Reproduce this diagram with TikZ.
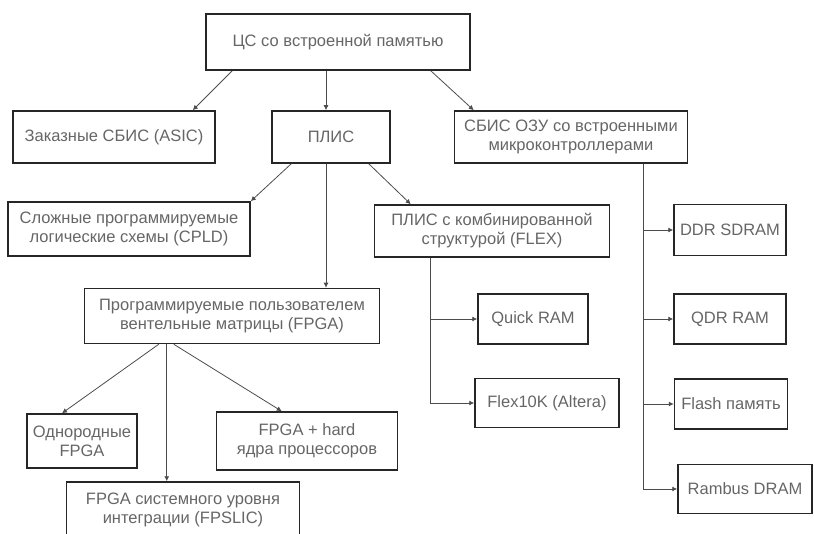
\documentclass[tikz,border=0pt]{standalone}
\usepackage{fontspec}
\setmainfont{Liberation Sans}
\usetikzlibrary{arrows.meta}
\tikzset{
  blk/.style={draw=black!85,line width=1.5pt,align=center,text=black!60,
    inner sep=2pt,font=\fontsize{16.5}{19}\selectfont},
  arr/.style={draw=black!70,line width=0.8pt,-{Latex[length=5pt,width=5pt]}}
}
\begin{document}
\begin{tikzpicture}[x=1pt,y=-1pt]
			\useasboundingbox (0,0) rectangle (814,534);
			% boxes
			\node[blk,minimum width=264,minimum height=56] (top) at (338,42) {ЦС со встроенной памятью};
			\node[blk,minimum width=202,minimum height=52] (asic) at (114,137) {Заказные СБИС (ASIC)};
			\node[blk,minimum width=118,minimum height=52] (plis) at (331,137) {ПЛИС};
			\node[blk,minimum width=233,minimum height=52] (sbis) at (571,137) {СБИС ОЗУ со встроенными\\микроконтроллерами};
			\node[blk,minimum width=242,minimum height=54] (cpld) at (129,229) {Сложные программируемые\\логические схемы (CPLD)};
			\node[blk,minimum width=235,minimum height=52] (flex) at (492,231) {ПЛИС с комбинированной\\структурой (FLEX)};
			\node[blk,minimum width=295,minimum height=55] (fpga) at (232,316) {Программируемые пользователем\\вентельные матрицы (FPGA)};
			\node[blk,minimum width=110,minimum height=50] (quick) at (533,319) {Quick RAM};
			\node[blk,minimum width=144,minimum height=49] (flexk) at (547,403) {Flex10K (Altera)};
			\node[blk,minimum width=112,minimum height=51] (ddr) at (730,230) {DDR SDRAM};
			\node[blk,minimum width=112,minimum height=50] (qdr) at (730,319) {QDR RAM};
			\node[blk,minimum width=113,minimum height=50] (flash) at (731,404) {Flash память};
			\node[blk,minimum width=134,minimum height=49] (rambus) at (745,489) {Rambus DRAM};
			\node[blk,minimum width=110,minimum height=54] (odn) at (82,441) {Однородные\\FPGA};
			\node[blk,minimum width=181,minimum height=58] (hard) at (307,441) {FPGA + hard\\ядра процессоров};
			\node[blk,minimum width=233,minimum height=56] (fpslic) at (183,510) {FPGA системного уровня\\интеграции (FPSLIC)};
			% links
			\draw[arr] ([xshift=27]top.south west) -- ([xshift=-23]asic.north east);
			\draw[arr] ([xshift=-12]top.south) -- ([xshift=-12]top.south |- plis.north);
			\draw[arr] ([xshift=-40]top.south east) -- ([xshift=20]sbis.north west);
			\draw[arr] ([xshift=20]plis.south west) -- (cpld.north east);
			\draw[arr] ([xshift=-5]plis.south) -- ([xshift=-5]plis.south |- fpga.north);
			\draw[arr] ([xshift=-22]plis.south east) -- ([xshift=37]flex.north west);
			\draw[arr] ([xshift=57]flex.south west) |- (quick.west);
			\draw[arr] ([xshift=57]flex.south west) |- (flexk.west);
			\draw[arr] ([xshift=-45]sbis.south east) |- (ddr.west);
			\draw[arr] ([xshift=-45]sbis.south east) |- (qdr.west);
			\draw[arr] ([xshift=-45]sbis.south east) |- (flash.west);
			\draw[arr] ([xshift=-45]sbis.south east) |- (rambus.west);
			\draw[arr] ([xshift=75]fpga.south west) -- ([xshift=-20]odn.north);
			\draw[arr] ([xshift=83]fpga.south west) -- ([xshift=83]fpga.south west |- fpslic.north);
			\draw[arr] ([xshift=90]fpga.south west) -- ([xshift=66]hard.north west);
		\end{tikzpicture}
\end{document}
